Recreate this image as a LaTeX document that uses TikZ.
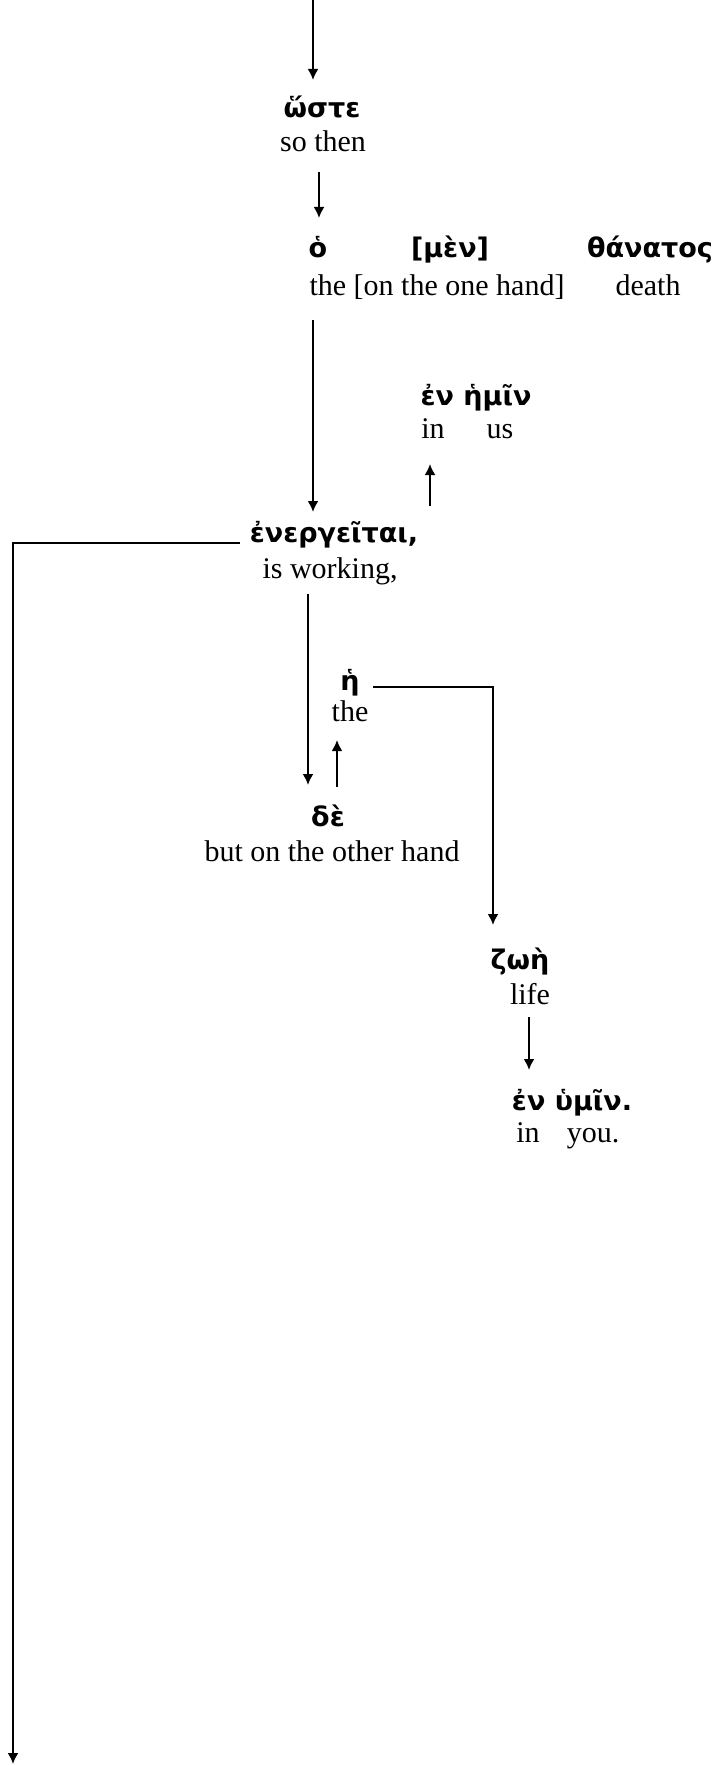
\documentclass[tikz,border=0pt]{standalone}
\usepackage{fontspec}
\setmainfont{Liberation Serif}
\newfontfamily\grk{DejaVu Sans}
\usetikzlibrary{arrows.meta}
\begin{document}
\begin{tikzpicture}[x=0.5pt,y=-0.5pt,
  gk/.style={inner sep=0pt,anchor=base,font=\grk\bfseries\fontsize{13.5}{16}\selectfont},
  en/.style={inner sep=0pt,anchor=base,font=\fontsize{15}{17}\selectfont},
  conn/.style={line width=1pt},
  arr/.style={conn,-{Latex[length=5.5pt,width=5.5pt]}}]
\useasboundingbox (0,0) rectangle (719,1765);
% nodes
\node[gk] (hoste) at (322,118) {ὥστε};
\node[en] (sothen) at (323,152) {so then};
\node[gk] (ho) at (318,258) {ὁ};
\node[gk] (men) at (450,258) {[μὲν]};
\node[gk] (thanatos) at (650,258) {θάνατος};
\node[en] (theone) at (437,296) {the [on the one hand]};
\node[en] (death) at (648,296) {death};
\node[gk] (enhemin) at (476,405) {ἐν ἡμῖν};
\node[en] (in1) at (433,438) {in};
\node[en] (us) at (500,438) {us};
\node[gk] (energ) at (334,542) {ἐνεργεῖται,};
\node[en] (isworking) at (330,578) {is working,};
\node[gk] (he) at (350,690) {ἡ};
\node[en] (the2) at (350,721) {the};
\node[gk] (de) at (328,826) {δὲ};
\node[en] (butother) at (332,861) {but on the other hand};
\node[gk] (zoe) at (520,969) {ζωὴ};
\node[en] (life) at (530,1004) {life};
\node[gk] (enhymin) at (572,1110) {ἐν ὑμῖν.};
\node[en] (in2) at (528,1142) {in};
\node[en] (you) at (593,1142) {you.};
% connector end points
\coordinate (top) at (313,0);
\coordinate (a1e) at (313,80);
\coordinate (a2s) at (319,172);
\coordinate (a2e) at (319,218);
\coordinate (a3s) at (313,320);
\coordinate (a3e) at (313,512);
\coordinate (a4s) at (430,506);
\coordinate (a4e) at (430,464);
\coordinate (l1s) at (240,543);
\coordinate (l1c) at (13,543);
\coordinate (l1e) at (13,1764);
\coordinate (a5s) at (308,594);
\coordinate (a5e) at (308,785);
\coordinate (a6s) at (337,787);
\coordinate (a6e) at (337,740);
\coordinate (l2s) at (373,687);
\coordinate (l2c) at (493,687);
\coordinate (l2e) at (493,925);
\coordinate (a7s) at (529,1017);
\coordinate (a7e) at (529,1070);
% connectors
\draw[arr] (top) -- (a1e);
\draw[arr] (a2s) -- (a2e);
\draw[arr] (a3s) -- (a3e);
\draw[arr] (a4s) -- (a4e);
\draw[arr] (l1s) -- (l1c) -- (l1e);
\draw[arr] (a5s) -- (a5e);
\draw[arr] (a6s) -- (a6e);
\draw[arr] (l2s) -- (l2c) -- (l2e);
\draw[arr] (a7s) -- (a7e);
\end{tikzpicture}
\end{document}
